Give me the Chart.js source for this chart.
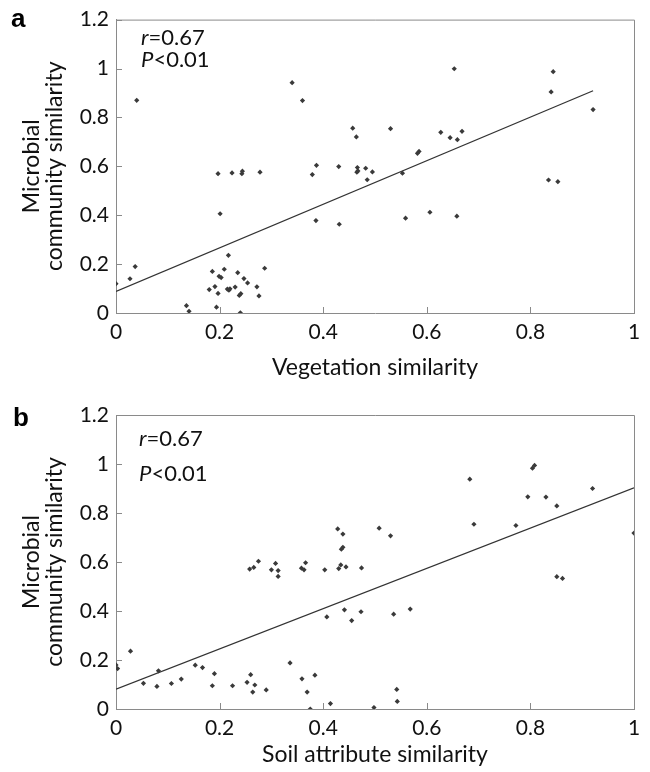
<!DOCTYPE html>
<html>
<head>
<meta charset="utf-8">
<script src="https://cdn.jsdelivr.net/npm/chart.js@4/dist/chart.umd.min.js"></script>
<style>
  body { margin: 0; background: #fff; }
  #wrap { position: relative; width: 650px; height: 772px; }
  .panel { position: relative; width: 650px; height: 386px; }
  .lbl { position: absolute; font-family: "Liberation Sans", Arial, sans-serif; font-weight: bold; font-size: 26px; line-height: 26px; color: #000; }
  .stat { position: absolute; font-family: Lato, sans-serif; font-size: 22px; line-height: 22px; color: #111; white-space: nowrap; }
</style>
</head>
<body>
<div id="wrap">
  <div class="panel">
    <canvas id="chartA" width="650" height="386"></canvas>
    <div class="lbl" style="left:11px; top:5px;">a</div>
    <div class="stat" style="left:141px; top:26px;"><i>r</i>=0.67</div>
    <div class="stat" style="left:141px; top:48px;"><i>P</i>&lt;0.01</div>
  </div>
  <div class="panel">
    <canvas id="chartB" width="650" height="386"></canvas>
    <div class="lbl" style="left:13px; top:18px;">b</div>
    <div class="stat" style="left:139px; top:41px;"><i>r</i>=0.67</div>
    <div class="stat" style="left:139px; top:76px;"><i>P</i>&lt;0.01</div>
  </div>
</div>
<script>
// ---------- Data ----------
const vegX = [0, 0.027, 0.037, 0.04, 0.136, 0.141, 0.18, 0.186, 0.191, 0.194,
  0.197, 0.197, 0.199, 0.201, 0.203, 0.209, 0.215, 0.217, 0.218, 0.22,
  0.224, 0.23, 0.235, 0.238, 0.241, 0.24, 0.243, 0.244, 0.247, 0.254,
  0.272, 0.276, 0.278, 0.287, 0.34, 0.36, 0.379, 0.387, 0.386, 0.43,
  0.431, 0.457, 0.464, 0.466, 0.465, 0.467, 0.482, 0.485, 0.495, 0.53,
  0.553, 0.559, 0.582, 0.585, 0.606, 0.627, 0.645, 0.653, 0.658, 0.659,
  0.668, 0.835, 0.84, 0.844, 0.853, 0.921];
const vegY = [0.12, 0.14, 0.19, 0.87, 0.03, 0.007, 0.096, 0.17, 0.108, 0.024,
  0.08, 0.57, 0.15, 0.406, 0.145, 0.179, 0.098, 0.236, 0.093, 0.099,
  0.573, 0.106, 0.165, 0.072, 0.079, 0.001, 0.57, 0.58, 0.141, 0.123,
  0.107, 0.07, 0.576, 0.183, 0.942, 0.869, 0.566, 0.604, 0.378, 0.599,
  0.363, 0.756, 0.72, 0.595, 0.576, 0.581, 0.592, 0.545, 0.577, 0.754,
  0.572, 0.388, 0.653, 0.661, 0.412, 0.739, 0.717, 0.999, 0.396, 0.709,
  0.743, 0.544, 0.904, 0.987, 0.537, 0.832];
const vegFitX = [0, 0.921];
const vegFitY = [0.088, 0.909];

const soilX = [0, 0.003, 0.028, 0.053, 0.079, 0.082, 0.107, 0.126, 0.153, 0.167,
  0.19, 0.186, 0.225, 0.253, 0.26, 0.268, 0.264, 0.29, 0.258, 0.266,
  0.275, 0.3, 0.308, 0.313, 0.313, 0.336, 0.358, 0.363, 0.366, 0.359,
  0.369, 0.384, 0.375, 0.414, 0.403, 0.407, 0.428, 0.438, 0.435, 0.438,
  0.43, 0.434, 0.444, 0.441, 0.455, 0.474, 0.473, 0.498, 0.508, 0.53,
  0.536, 0.568, 0.542, 0.543, 0.683, 0.691, 0.772, 0.795, 0.804, 0.808,
  0.83, 0.851, 0.851, 0.862, 0.92, 1.0];
const soilY = [0.18, 0.165, 0.236, 0.105, 0.092, 0.156, 0.104, 0.122, 0.179, 0.169,
  0.144, 0.095, 0.095, 0.109, 0.14, 0.098, 0.069, 0.078, 0.571, 0.578,
  0.603, 0.568, 0.594, 0.565, 0.541, 0.188, 0.575, 0.568, 0.597, 0.123,
  0.069, 0.138, 0.0, 0.022, 0.568, 0.376, 0.735, 0.714, 0.652, 0.66,
  0.573, 0.588, 0.58, 0.405, 0.361, 0.576, 0.397, 0.006, 0.738, 0.707,
  0.387, 0.408, 0.08, 0.031, 0.938, 0.754, 0.749, 0.866, 0.983, 0.994,
  0.865, 0.829, 0.54, 0.533, 0.9, 0.718];
const soilFitX = [0, 1];
const soilFitY = [0.081, 0.903];

const yTitle = ["Microbial", "community similarity"];

// ---------- Helpers ----------
function toPoints(xs, ys) {
  return xs.map((x, i) => ({ x: x, y: ys[i] }));
}

function fmtTick(v) {
  return String(+v.toFixed(1));
}

// box frame (top/right edges) and inward tick marks
const frameTicks = {
  id: "frameTicks",
  afterDraw(chart) {
    const { ctx, chartArea: a, scales } = chart;
    ctx.save();
    ctx.strokeStyle = "#8a8a8a";
    ctx.lineWidth = 1;
    ctx.beginPath();
    ctx.moveTo(a.left, a.top + 0.5);
    ctx.lineTo(a.right + 0.5, a.top + 0.5);
    ctx.lineTo(a.right + 0.5, a.bottom);
    ctx.stroke();
    ctx.beginPath();
    scales.x.ticks.forEach(t => {
      const px = Math.round(scales.x.getPixelForValue(t.value)) + 0.5;
      ctx.moveTo(px, a.bottom);
      ctx.lineTo(px, a.bottom - 6);
    });
    scales.y.ticks.forEach(t => {
      const py = Math.round(scales.y.getPixelForValue(t.value)) + 0.5;
      ctx.moveTo(a.left, py);
      ctx.lineTo(a.left + 6, py);
    });
    ctx.stroke();
    ctx.restore();
  }
};

function makeChart(id, xs, ys, fitX, fitY, xTitle, topPad, xAxisH, xTitlePad) {
  const font = { family: "Lato, sans-serif" };
  return new Chart(document.getElementById(id), {
    type: "scatter",
    data: {
      datasets: [{
        data: toPoints(xs, ys),
        pointStyle: "rectRot",
        pointRadius: 2.6,
        backgroundColor: "#3a3a3a",
        borderWidth: 0
      }, {
        type: "line",
        data: toPoints(fitX, fitY),
        borderColor: "#333",
        borderWidth: 1.3,
        pointRadius: 0,
        fill: false
      }]
    },
    options: {
      responsive: false,
      animation: false,
      layout: { padding: { left: 0, right: 16, top: topPad, bottom: 0 } },
      plugins: { legend: { display: false }, tooltip: { enabled: false } },
      scales: {
        x: {
          type: "linear",
          min: 0, max: 1,
          afterFit: s => { s.height = xAxisH; },
          grid: { display: false, drawTicks: false },
          border: { display: true, color: "#8a8a8a", width: 1 },
          ticks: { stepSize: 0.2, padding: 7, color: "#111", maxRotation: 0,
                   callback: fmtTick, font: { ...font, size: 21 } },
          title: { display: true, text: xTitle, color: "#111",
                   padding: { top: 0, bottom: xTitlePad },
                   font: { ...font, size: 23, lineHeight: 1 } }
        },
        y: {
          type: "linear",
          min: 0, max: 1.2,
          afterFit: s => { s.width = 116; },
          grid: { display: false, drawTicks: false },
          border: { display: true, color: "#8a8a8a", width: 1 },
          ticks: { stepSize: 0.2, padding: 7, color: "#111",
                   callback: fmtTick, font: { ...font, size: 21 } },
          title: { display: true, text: yTitle, color: "#111",
                   padding: { top: 20, bottom: 0 },
                   font: { ...font, size: 23, lineHeight: 1 } }
        }
      }
    },
    plugins: [frameTicks]
  });
}

makeChart("chartA", vegX, vegY, vegFitX, vegFitY, "Vegetation similarity", 18, 73, 7);
makeChart("chartB", soilX, soilY, soilFitX, soilFitY, "Soil attribute similarity", 29, 63, 6);
</script>
</body>
</html>
